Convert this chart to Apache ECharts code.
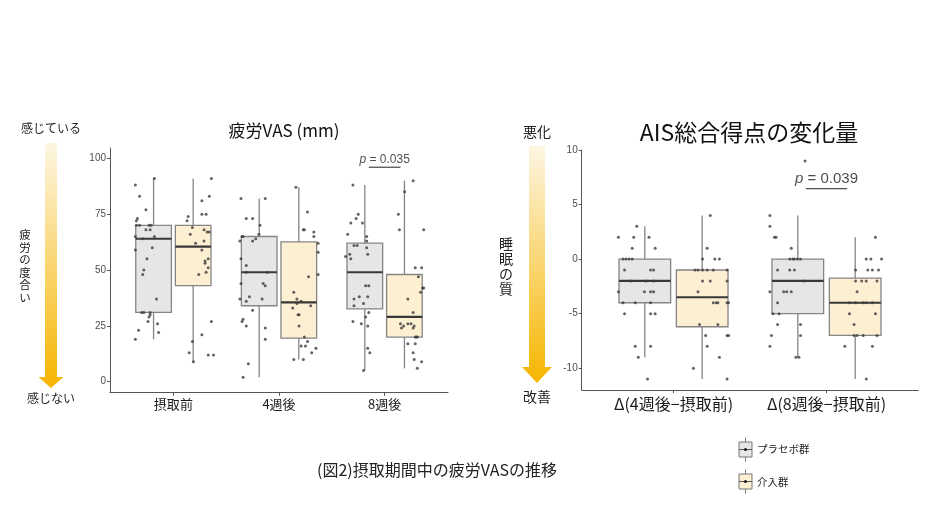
<!DOCTYPE html>
<html>
<head>
<meta charset="utf-8">
<script src="https://cdn.jsdelivr.net/npm/echarts@6/dist/echarts.min.js"></script>
<style>
  html, body { margin: 0; padding: 0; background: #fff; }
  #chart { width: 940px; height: 529px; }
</style>
</head>
<body>
<div id="chart"></div>
<script>
// ---- 疲労VAS (mm) ----
const vasCategories = ['摂取前', '4週後', '8週後']
const vasYTicks = [0, 25, 50, 75, 100]
// [下ひげ, Q1, 中央値, Q3, 上ひげ]
const vasPlaceboBox = [[19, 31, 64, 70, 91], [2, 34, 49, 65, 82], [5, 32.6, 49, 62, 88]]
const vasInterventionBox = [[9, 43, 60.5, 70, 91], [10, 19.5, 35.5, 62.6, 87], [6, 20, 29, 48, 90]]
// jitter点 [x位置, 値]
const vasPlaceboPoints = [
  [0.64, 88], [0.68, 83], [0.74, 77], [0.66, 73], [0.65, 72], [0.65, 70], [0.68, 70], [0.77, 70], [0.79, 70],
  [0.74, 68], [0.78, 68], [0.64, 65], [0.71, 64], [0.82, 65], [0.64, 59], [0.80, 60], [0.75, 55], [0.72, 50],
  [0.71, 48], [0.84, 37], [0.70, 31], [0.72, 31], [0.78, 31], [0.78, 30], [0.77, 29], [0.76, 27], [0.85, 26],
  [0.67, 23], [0.86, 22], [0.64, 19], [0.82, 91],
  [1.64, 82], [1.87, 82], [1.69, 73], [1.75, 73], [1.82, 70], [1.65, 65], [1.66, 65], [1.81, 66], [1.78, 64],
  [1.75, 63], [1.63, 63], [1.64, 55], [1.69, 52], [1.69, 49], [1.89, 49], [1.85, 44], [1.87, 43], [1.64, 44],
  [1.72, 38], [1.69, 36], [1.84, 37], [1.63, 37], [1.75, 32], [1.66, 28], [1.65, 27], [1.69, 25], [1.87, 24],
  [1.87, 19], [1.71, 8], [1.66, 2],
  [2.70, 88], [2.75, 75], [2.73, 73], [2.68, 71], [2.79, 71], [2.83, 65], [2.83, 63], [2.65, 66], [2.71, 61],
  [2.74, 61], [2.83, 60], [2.84, 57], [2.63, 56], [2.67, 57], [2.68, 55], [2.82, 43], [2.85, 43], [2.76, 38],
  [2.71, 37], [2.84, 38], [2.80, 35], [2.71, 34], [2.70, 27], [2.78, 26], [2.84, 25], [2.85, 31], [2.82, 29],
  [2.84, 15], [2.86, 13], [2.80, 5]
]
const vasInterventionPoints = [
  [1.36, 91], [1.34, 83], [1.27, 81], [1.27, 75], [1.31, 75], [1.14, 74], [1.13, 72], [1.18, 69], [1.29, 68],
  [1.32, 67], [1.34, 67], [1.16, 66], [1.29, 63], [1.21, 62], [1.27, 59], [1.33, 55], [1.30, 54], [1.30, 53],
  [1.33, 51], [1.31, 49], [1.24, 48], [1.36, 27], [1.27, 21], [1.18, 18], [1.15, 13], [1.33, 12], [1.38, 12],
  [1.19, 9],
  [2.16, 87], [2.27, 76], [2.23, 68], [2.24, 68], [2.33, 67], [2.33, 65], [2.37, 62], [2.37, 58], [2.28, 47],
  [2.37, 48], [2.14, 40], [2.17, 37], [2.21, 36], [2.17, 35], [2.30, 34], [2.13, 33], [2.18, 30], [2.19, 30],
  [2.19, 25], [2.24, 20], [2.27, 18], [2.21, 16], [2.25, 16], [2.35, 15], [2.31, 13], [2.14, 10], [2.23, 10],
  [3.27, 90], [3.19, 85], [3.13, 75], [3.14, 68], [3.37, 68], [3.29, 51], [3.35, 51], [3.32, 47], [3.36, 42],
  [3.37, 42], [3.34, 40], [3.22, 37], [3.27, 31], [3.15, 26], [3.18, 25], [3.16, 24], [3.22, 26], [3.25, 26],
  [3.28, 25], [3.27, 24], [3.30, 20], [3.29, 20], [3.31, 20], [3.22, 17], [3.29, 17], [3.27, 13], [3.28, 10],
  [3.35, 9], [3.31, 6]
]
const vasP = '0.035'

// ---- AIS総合得点の変化量 ----
const aisCategories = ['Δ(4週後−摂取前)', 'Δ(8週後−摂取前)']
const aisYTicks = [-10, -5, 0, 5, 10]
const aisPlaceboBox = [[-9, -4, -2, 0, 3], [-9, -5, -2, 0, 4]]
const aisInterventionBox = [[-11, -6.2, -3.5, -1, 4], [-11, -7, -4, -1.75, 2]]
const aisPlaceboPoints = [
  [0.76, 3], [0.64, 2], [0.74, 2], [0.84, 2], [0.73, 1], [0.88, 1], [0.67, 0], [0.69, 0], [0.71, 0], [0.73, 0],
  [0.68, -1], [0.85, -1], [0.87, -1], [0.72, -2], [0.87, -2], [0.82, -2], [0.64, -3], [0.81, -3], [0.85, -3],
  [0.87, -3], [0.67, -4], [0.75, -4], [0.85, -4], [0.68, -5], [0.85, -5], [0.88, -5], [0.75, -8], [0.85, -8],
  [0.77, -9], [0.83, -11],
  [1.86, 9], [1.63, 4], [1.63, 3], [1.66, 2], [1.67, 2], [1.77, 1], [1.76, 0], [1.78, 0], [1.79, 0], [1.81, 0],
  [1.83, 0], [1.68, -1], [1.76, -1], [1.79, -1], [1.85, -2], [1.63, -3], [1.72, -3], [1.74, -3], [1.77, -3],
  [1.68, -4], [1.65, -5], [1.69, -5], [1.68, -6], [1.83, -6], [1.64, -7], [1.83, -7], [1.63, -8], [1.80, -9],
  [1.82, -9]
]
const aisInterventionPoints = [
  [1.24, 4], [1.22, 1], [1.19, 0], [1.27, 0], [1.30, 0], [1.14, -1], [1.16, -1], [1.19, -1], [1.22, -1],
  [1.26, -1], [1.35, -1], [1.19, -2], [1.24, -2], [1.35, -2], [1.16, -3], [1.26, -4], [1.28, -4], [1.29, -4],
  [1.35, -4], [1.36, -4], [1.17, -6], [1.29, -6], [1.21, -7], [1.35, -7], [1.36, -7], [1.22, -8], [1.30, -9],
  [1.13, -10], [1.35, -11],
  [2.32, 2], [2.26, 0], [2.29, 0], [2.36, 0], [2.19, -1], [2.27, -1], [2.30, -1], [2.34, -1], [2.19, -2],
  [2.23, -2], [2.26, -2], [2.33, -2], [2.20, -3], [2.15, -4], [2.19, -4], [2.24, -4], [2.26, -4], [2.30, -4],
  [2.15, -5], [2.32, -5], [2.18, -6], [2.18, -7], [2.20, -7], [2.24, -7], [2.33, -7], [2.12, -8], [2.30, -8],
  [2.26, -11]
]
const aisP = '0.039'

const groupNames = ['プラセボ群', '介入群']

// 描画設定
const FONT = '"Noto Sans CJK JP", "Noto Sans", sans-serif'
const DODGE = 0.1875
const BOX_WIDTH = 0.3375
const PLACEBO_FILL = '#e6e6e6'
const INTERVENTION_FILL = '#fcefd2'
const EDGE = '#858585'

function boxRender(fill) {
  return function (params, api) {
    const x = api.value(0)
    const lo = api.coord([x, api.value(1)])
    const q1 = api.coord([x, api.value(2)])
    const med = api.coord([x, api.value(3)])
    const q3 = api.coord([x, api.value(4)])
    const hi = api.coord([x, api.value(5)])
    const w = api.size([BOX_WIDTH, 0])[0]
    return {
      type: 'group',
      children: [
        { type: 'line', shape: { x1: lo[0], y1: lo[1], x2: hi[0], y2: hi[1] }, style: { stroke: EDGE, lineWidth: 1.3 } },
        { type: 'rect', shape: { x: med[0] - w / 2, y: q3[1], width: w, height: q1[1] - q3[1] }, style: { fill: fill, stroke: EDGE, lineWidth: 1.3 } },
        { type: 'line', shape: { x1: med[0] - w / 2, y1: med[1], x2: med[0] + w / 2, y2: med[1] }, style: { stroke: '#383838', lineWidth: 2.2 } }
      ]
    }
  }
}

function boxSeries(stats, offset, fill, idx) {
  return {
    type: 'custom',
    xAxisIndex: idx,
    yAxisIndex: idx,
    z: 2,
    silent: true,
    renderItem: boxRender(fill),
    encode: { x: 0, y: [1, 2, 3, 4, 5] },
    data: stats.map((s, i) => [i + 1 + offset].concat(s))
  }
}

function pointSeries(points, idx) {
  return {
    type: 'scatter',
    xAxisIndex: idx,
    yAxisIndex: idx,
    z: 3,
    silent: true,
    symbolSize: 3,
    itemStyle: { color: '#3c3c3c' },
    data: points
  }
}

function pSeries(idx, x, yText, yLine, half, p, size) {
  return [
    {
      type: 'line',
      xAxisIndex: idx,
      yAxisIndex: idx,
      symbol: 'none',
      silent: true,
      lineStyle: { color: '#222', width: 1 },
      data: [[x - half, yLine], [x + half, yLine]]
    },
    {
      type: 'scatter',
      xAxisIndex: idx,
      yAxisIndex: idx,
      symbolSize: 0,
      silent: true,
      data: [[x, yText]],
      label: {
        show: true,
        position: 'inside',
        formatter: '{i|p} = ' + p,
        color: '#222',
        fontSize: size,
        fontFamily: 'Liberation Sans, Arial, sans-serif',
        rich: { i: { fontStyle: 'italic', fontSize: size, fontFamily: 'Liberation Sans, Arial, sans-serif', color: '#222' } }
      }
    }
  ]
}

function xAxisOf(idx, cats, size, margin) {
  const ticks = cats.map((c, i) => i + 1)
  return {
    gridIndex: idx,
    type: 'value',
    min: 0.4,
    max: cats.length + 0.6,
    axisLine: { onZero: false, lineStyle: { color: '#555', width: 1 } },
    axisTick: { customValues: ticks, length: 3, lineStyle: { color: '#555' } },
    axisLabel: {
      customValues: ticks,
      formatter: v => cats[Math.round(v) - 1],
      color: '#1a1a1a',
      fontSize: size,
      margin: margin,
      fontFamily: FONT
    },
    splitLine: { show: false }
  }
}

function yAxisOf(idx, ticks, min, max) {
  return {
    gridIndex: idx,
    type: 'value',
    min: min,
    max: max,
    axisLine: { show: true, onZero: false, lineStyle: { color: '#555', width: 1 } },
    axisTick: { show: true, customValues: ticks, length: 3, lineStyle: { color: '#555' } },
    axisLabel: { customValues: ticks, color: '#4d4d4d', fontSize: 10, margin: 4, fontFamily: 'Liberation Sans, Arial, sans-serif' },
    splitLine: { show: false }
  }
}

function arrow(cx, top, shaftW, headW, headTop, tip) {
  return {
    type: 'polygon',
    silent: true,
    shape: {
      points: [
        [cx - shaftW / 2, top], [cx + shaftW / 2, top], [cx + shaftW / 2, headTop], [cx + headW / 2, headTop],
        [cx, tip], [cx - headW / 2, headTop], [cx - shaftW / 2, headTop]
      ]
    },
    style: {
      fill: new echarts.graphic.LinearGradient(0, 0, 0, 1, [
        { offset: 0, color: '#fdf6e2' },
        { offset: 1, color: '#f6b500' }
      ])
    }
  }
}

function text(x, y, str, size, align, lineHeight) {
  const style = { text: str, fontSize: size, fontFamily: FONT, fill: '#222', align: align || 'center', verticalAlign: 'middle' }
  if (lineHeight) style.lineHeight = lineHeight
  return { type: 'text', x: x, y: y, silent: true, style: style }
}

function legendIcon(cx, cy, fill) {
  return [
    { type: 'line', silent: true, shape: { x1: cx, y1: cy - 12, x2: cx, y2: cy + 12 }, style: { stroke: '#777', lineWidth: 1 } },
    { type: 'rect', silent: true, shape: { x: cx - 6.5, y: cy - 7.5, width: 13, height: 15 }, style: { fill: fill, stroke: '#777', lineWidth: 1 } },
    { type: 'line', silent: true, shape: { x1: cx - 6.5, y1: cy, x2: cx + 6.5, y2: cy }, style: { stroke: '#555', lineWidth: 1 } },
    { type: 'circle', silent: true, shape: { cx: cx, cy: cy, r: 1.5 }, style: { fill: '#111' } }
  ]
}

const chart = echarts.init(document.getElementById('chart'))

const option = {
  backgroundColor: '#fff',
  animation: false,
  title: [
    { text: '疲労VAS (mm)', left: 279, top: 117, textAlign: 'center', textStyle: { fontSize: 17, fontWeight: 'normal', color: '#111', fontFamily: FONT } },
    { text: 'AIS総合得点の変化量', left: 744, top: 116, textAlign: 'center', textStyle: { fontSize: 23, fontWeight: 'normal', color: '#111', fontFamily: FONT } }
  ],
  grid: [
    { left: 110, width: 338, top: 148, height: 244.7 },
    { left: 581.7, width: 336.6, top: 150, height: 240 }
  ],
  xAxis: [xAxisOf(0, vasCategories, 13, 5), xAxisOf(1, aisCategories, 16, 6)],
  yAxis: [yAxisOf(0, vasYTicks, -4.9, 104.6), yAxisOf(1, aisYTicks, -12, 10)],
  series: [
    boxSeries(vasPlaceboBox, -DODGE, PLACEBO_FILL, 0),
    boxSeries(vasInterventionBox, DODGE, INTERVENTION_FILL, 0),
    pointSeries(vasPlaceboPoints, 0),
    pointSeries(vasInterventionPoints, 0),
    boxSeries(aisPlaceboBox, -DODGE, PLACEBO_FILL, 1),
    boxSeries(aisInterventionBox, DODGE, INTERVENTION_FILL, 1),
    pointSeries(aisPlaceboPoints, 1),
    pointSeries(aisInterventionPoints, 1)
  ].concat(pSeries(0, 3.0, 99.3, 96, 0.15, vasP, 12), pSeries(1, 2.0, 7.35, 6.45, 0.135, aisP, 15)),
  graphic: [
    // 左の矢印
    arrow(51, 143, 12, 25, 377, 388),
    text(51, 128, '感じている', 12),
    text(51, 398, '感じない', 12),
    text(25, 266, '疲\n労\nの\n度\n合\nい', 11.5, 'center', 12.5),
    // 右の矢印
    arrow(537, 146, 16, 30, 367, 383),
    text(537, 132, '悪化', 14),
    text(537, 397, '改善', 14),
    text(506, 266, '睡\n眠\nの\n質', 14, 'center', 15),
    // キャプション
    text(317, 470, '(図2)摂取期間中の疲労VASの推移', 16, 'left'),
    // 凡例
    ...legendIcon(745.5, 449.5, PLACEBO_FILL),
    ...legendIcon(745.5, 481.5, INTERVENTION_FILL),
    text(757, 449, groupNames[0], 10.5, 'left'),
    text(757, 482, groupNames[1], 10.5, 'left')
  ]
}

chart.setOption(option)
</script>
</body>
</html>
